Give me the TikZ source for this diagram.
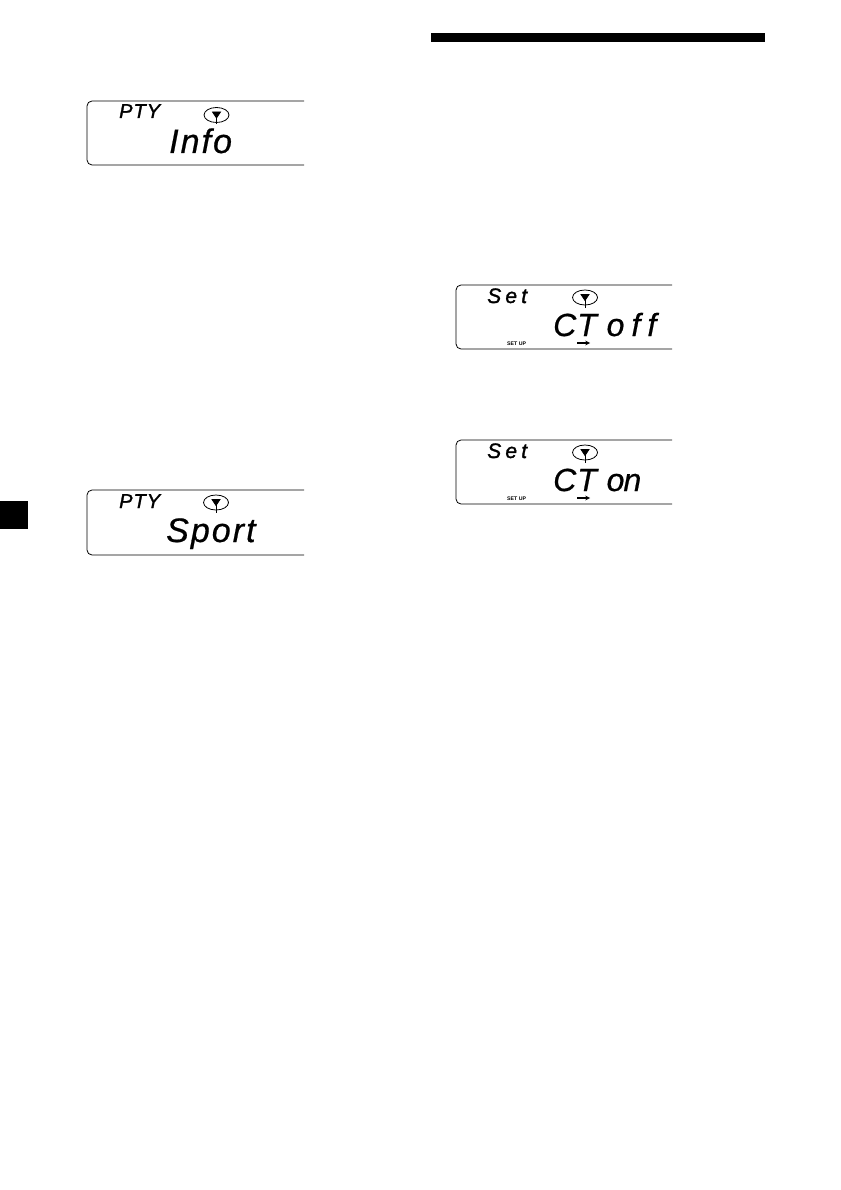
\documentclass[tikz,border=0pt]{standalone}
\usepackage{xcolor}
\usepackage{fontspec}
\usetikzlibrary{shapes.geometric}
\setmainfont{Liberation Sans}
\newfontfamily\lcdbig[LetterSpace=6,FakeBold=0.6]{Liberation Sans Italic}
\newfontfamily\lcdct[LetterSpace=3,FakeBold=0.6]{Liberation Sans Italic}
\newfontfamily\lcdoff[LetterSpace=22,FakeBold=0.6]{Liberation Sans Italic}
\newfontfamily\lcdon[LetterSpace=-3,FakeBold=0.6]{Liberation Sans Italic}
\newfontfamily\lcdpty[LetterSpace=5,FakeBold=1.5]{Liberation Sans Italic}
\newfontfamily\lcdset[LetterSpace=20,FakeBold=1.5]{Liberation Sans Italic}

\begin{document}
\begin{tikzpicture}[x=1pt,y=-1pt]
        % Define styles
        \tikzset{
            panel/.style={draw, line width=0.8pt, rounded corners=5pt},
            antenna/.style={ellipse, draw, line width=0.8pt, inner sep=0pt, minimum width=25pt, minimum height=15pt},
            mast/.style={line width=0.8pt},
            ptytext/.style={anchor=base west, inner sep=0pt, font=\lcdpty\fontsize{20}{20}\selectfont},
            settext/.style={anchor=base west, inner sep=0pt, font=\lcdset\fontsize{21}{21}\selectfont},
            bigtext/.style={anchor=base west, inner sep=0pt, font=\lcdbig\fontsize{34}{34}\selectfont},
            cttext/.style={anchor=base west, inner sep=0pt, font=\lcdct\fontsize{32}{32}\selectfont},
            setup/.style={anchor=base west, inner sep=0pt, font=\bfseries\fontsize{5.2}{5.2}\selectfont},
            arrow/.style={->,>=stealth,line width=1.1pt}
        }
        \useasboundingbox (0,0) rectangle (840,1190);

        % Page marks
        \fill (431,33) rectangle (765,42);
        \fill (0,501) rectangle (28,529);

        % Info display
        \draw[panel] (304,101) -- (87,101) -- (87,165) -- (304,165);
        \node[ptytext] (info_top) at (119,118) {PTY};
        \node[antenna] (info_ant) at (216.5,115) {};
        \coordinate (info_foot) at (216.5,124);
        \draw[fill, mast] (212.5,112) -- (220.5,112) -- (216.5,118) -- cycle;
        \draw[mast] (info_ant.center) -- (info_foot);
        \node[bigtext] (info_text) at (169,153) {Info};

        % Sport display
        \draw[panel] (304,490) -- (87,490) -- (87,555) -- (304,555);
        \node[ptytext] (sport_top) at (119,508) {PTY};
        \node[antenna] (sport_ant) at (216,502.5) {};
        \coordinate (sport_foot) at (216,513);
        \draw[fill, mast] (212,499.5) -- (220,499.5) -- (216,505.5) -- cycle;
        \draw[mast] (sport_ant.center) -- (sport_foot);
        \node[bigtext] (sport_text) at (166,542) {Sport};

        % CT off display
        \draw[panel] (672,285) -- (456,285) -- (456,349) -- (672,349);
        \node[settext] (off_top) at (487,303) {Set};
        \node[antenna] (off_ant) at (585,297.5) {};
        \coordinate (off_foot) at (585,308);
        \draw[fill, mast] (581,294.5) -- (589,294.5) -- (585,300.5) -- cycle;
        \draw[mast] (off_ant.center) -- (off_foot);
        \node[cttext] (off_text) at (553,336) {CT {\lcdoff off}};
        \node[setup] (off_setup) at (507,345) {SET UP};
        \coordinate (off_from) at (577,343);
        \coordinate (off_to) at (590,343);
        \draw[arrow] (off_from) -- (off_to);

        % CT on display
        \draw[panel] (672,440) -- (456,440) -- (456,504) -- (672,504);
        \node[settext] (on_top) at (487,458) {Set};
        \node[antenna] (on_ant) at (585,452.5) {};
        \coordinate (on_foot) at (585,463);
        \draw[fill, mast] (581,449.5) -- (589,449.5) -- (585,455.5) -- cycle;
        \draw[mast] (on_ant.center) -- (on_foot);
        \node[cttext] (on_text) at (553,491) {CT {\lcdon on}};
        \node[setup] (on_setup) at (507,500) {SET UP};
        \coordinate (on_from) at (577,498);
        \coordinate (on_to) at (590,498);
        \draw[arrow] (on_from) -- (on_to);
    \end{tikzpicture}
\end{document}
